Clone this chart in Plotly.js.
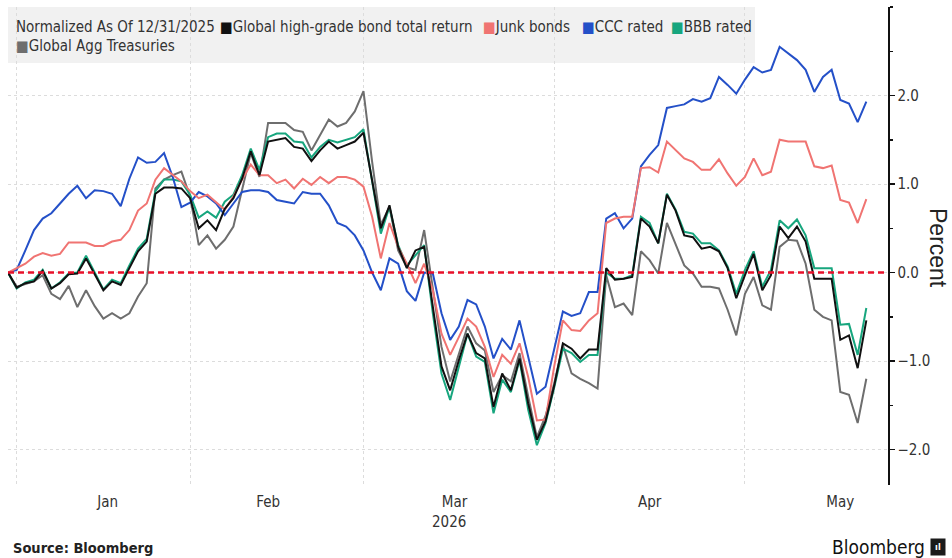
<!DOCTYPE html>
<html>
<head>
<meta charset="utf-8">
<script src="https://cdn.plot.ly/plotly-3.0.1.min.js"></script>
<style>
  html, body { margin: 0; padding: 0; background: #ffffff; }
  #chart { width: 952px; height: 558px; }
</style>
</head>
<body>
<div id="chart"></div>
<script>
// ---- Data ----
const dates = [
  '2025-12-31','2026-01-02','2026-01-05','2026-01-06','2026-01-07','2026-01-08','2026-01-09',
  '2026-01-12','2026-01-13','2026-01-14','2026-01-15','2026-01-16',
  '2026-01-20','2026-01-21','2026-01-22','2026-01-23',
  '2026-01-26','2026-01-27','2026-01-28','2026-01-29','2026-01-30',
  '2026-02-02','2026-02-03','2026-02-04','2026-02-05','2026-02-06',
  '2026-02-09','2026-02-10','2026-02-11','2026-02-12','2026-02-13',
  '2026-02-16','2026-02-17','2026-02-18','2026-02-19','2026-02-20',
  '2026-02-23','2026-02-24','2026-02-25','2026-02-26','2026-02-27',
  '2026-03-02','2026-03-03','2026-03-04','2026-03-05','2026-03-06',
  '2026-03-09','2026-03-10','2026-03-11','2026-03-12','2026-03-13',
  '2026-03-16','2026-03-17','2026-03-18','2026-03-19','2026-03-20',
  '2026-03-23','2026-03-24','2026-03-25','2026-03-26','2026-03-27',
  '2026-03-30','2026-03-31',
  '2026-04-01','2026-04-02','2026-04-03',
  '2026-04-06','2026-04-07','2026-04-08','2026-04-09','2026-04-10',
  '2026-04-13','2026-04-14','2026-04-15','2026-04-16','2026-04-17',
  '2026-04-20','2026-04-21','2026-04-22','2026-04-23','2026-04-24',
  '2026-04-27','2026-04-28','2026-04-29','2026-04-30',
  '2026-05-01','2026-05-04','2026-05-05','2026-05-06','2026-05-07','2026-05-08',
  '2026-05-11','2026-05-12','2026-05-13','2026-05-14','2026-05-15',
  '2026-05-18','2026-05-19','2026-05-20','2026-05-21'
];

const highGrade = [
  0.00,-0.17,-0.12,-0.10,0.02,-0.18,-0.12,-0.02,-0.01,0.16,
  -0.02,-0.20,-0.10,-0.14,0.05,0.24,0.35,0.89,0.96,0.96,
  0.95,0.84,0.50,0.59,0.48,0.72,0.84,1.06,1.37,1.10,
  1.48,1.50,1.52,1.42,1.40,1.26,1.38,1.48,1.40,1.44,
  1.48,1.58,1.02,0.50,0.76,0.29,0.05,0.25,0.29,-0.39,
  -1.06,-1.33,-0.99,-0.69,-0.91,-0.97,-1.52,-1.14,-1.33,-0.97,
  -1.48,-1.89,-1.68,-1.28,-0.80,-0.86,-0.97,-0.87,-0.87,0.05,
  -0.08,-0.07,-0.05,0.61,0.52,0.33,0.88,0.70,0.42,0.40,
  0.27,0.29,0.24,0.05,-0.29,-0.03,0.21,-0.20,-0.03,0.52,
  0.39,0.52,0.35,-0.07,-0.07,-0.07,-0.76,-0.71,-1.08,-0.54
];

const junk = [
  0.00,0.05,0.10,0.18,0.22,0.19,0.21,0.34,0.34,0.34,
  0.30,0.30,0.35,0.37,0.48,0.70,0.78,1.05,1.18,1.11,
  1.03,0.92,0.84,0.88,0.80,0.71,0.86,1.05,1.22,1.10,
  1.10,1.01,1.05,0.95,1.06,0.99,1.08,1.01,1.08,1.08,
  1.05,0.97,0.63,0.16,0.56,0.29,0.10,-0.12,0.10,-0.20,
  -0.69,-0.93,-0.73,-0.52,-0.61,-0.84,-1.18,-0.93,-1.03,-0.80,
  -1.18,-1.67,-1.66,-1.06,-0.54,-0.65,-0.66,-0.54,-0.46,0.56,
  0.61,0.63,0.63,1.18,1.19,1.13,1.48,1.38,1.29,1.25,
  1.16,1.16,1.28,1.12,0.98,1.08,1.29,1.10,1.14,1.50,
  1.48,1.48,1.48,1.20,1.18,1.21,0.82,0.79,0.56,0.83
];

const ccc = [
  0.00,0.03,0.25,0.48,0.61,0.67,0.78,0.89,0.98,0.84,
  0.93,0.92,0.89,0.75,1.06,1.30,1.24,1.25,1.35,1.08,
  0.74,0.79,0.91,0.86,0.78,0.65,0.78,0.91,0.93,0.93,
  0.91,0.82,0.80,0.78,0.91,0.89,0.89,0.76,0.56,0.52,
  0.42,0.25,0.00,-0.20,0.16,0.10,-0.21,-0.32,0.00,-0.01,
  -0.46,-0.76,-0.61,-0.31,-0.36,-0.61,-0.97,-0.75,-0.87,-0.54,
  -0.95,-1.37,-1.29,-0.86,-0.44,-0.49,-0.46,-0.22,-0.22,0.61,
  0.67,0.50,0.61,1.20,1.33,1.44,1.86,1.88,1.90,1.96,
  1.93,1.97,2.21,2.12,2.02,2.18,2.32,2.26,2.29,2.55,
  2.48,2.40,2.29,2.04,2.21,2.29,1.95,1.91,1.70,1.93
];

const bbb = [
  0.00,-0.18,-0.11,-0.08,0.03,-0.18,-0.11,-0.01,0.00,0.19,
  0.00,-0.19,-0.08,-0.12,0.08,0.27,0.38,0.92,1.05,1.05,
  1.03,0.88,0.62,0.69,0.62,0.80,0.88,1.10,1.40,1.16,
  1.53,1.57,1.57,1.48,1.47,1.30,1.42,1.50,1.47,1.50,
  1.53,1.62,1.02,0.44,0.74,0.31,0.08,0.20,0.31,-0.46,
  -1.14,-1.44,-1.08,-0.69,-0.95,-1.01,-1.59,-1.21,-1.35,-0.99,
  -1.55,-1.95,-1.70,-1.30,-0.86,-0.91,-1.01,-0.93,-0.93,0.00,
  -0.07,-0.07,-0.03,0.63,0.56,0.33,0.89,0.71,0.46,0.44,
  0.33,0.33,0.25,0.07,-0.24,0.03,0.24,-0.16,0.03,0.59,
  0.50,0.60,0.42,0.05,0.05,0.05,-0.59,-0.58,-0.93,-0.40
];

const treasuries = [
  0.00,-0.16,-0.13,-0.10,-0.03,-0.24,-0.30,-0.15,-0.39,-0.20,
  -0.38,-0.52,-0.46,-0.52,-0.46,-0.27,-0.12,0.95,1.05,1.10,
  1.14,0.86,0.31,0.42,0.27,0.37,0.52,0.93,1.35,1.08,
  1.69,1.69,1.69,1.61,1.59,1.38,1.55,1.73,1.65,1.69,
  1.82,2.05,1.25,0.54,0.74,0.25,0.06,0.03,0.48,-0.20,
  -0.84,-1.23,-0.91,-0.61,-0.80,-0.88,-1.35,-1.16,-1.23,-0.91,
  -1.40,-1.86,-1.62,-1.25,-0.82,-1.14,-1.20,-1.25,-1.31,-0.03,
  -0.39,-0.35,-0.48,0.24,0.14,-0.01,0.56,0.33,0.08,-0.01,
  -0.16,-0.16,-0.18,-0.42,-0.71,-0.24,-0.05,-0.37,-0.42,0.29,
  0.37,0.36,0.10,-0.42,-0.50,-0.54,-1.35,-1.38,-1.70,-1.20
];

const seriesNames = ['Global high-grade bond total return','Junk bonds','CCC rated','BBB rated','Global Agg Treasuries'];
const seriesColors = ['#111111','#f07472','#2450c8','#17a67e','#6e6e6e'];
const legendNote = 'Normalized As Of 12/31/2025';
const yTickVals = [-2, -1, 0, 1, 2];
const yearLabel = '2026';
const baseline = 0;

// ---- Chart ----
const FONT = '"DejaVu Sans Condensed", "Liberation Sans Narrow", "Arial Narrow", sans-serif';
const seriesValues = [highGrade, junk, ccc, bbb, treasuries];
const drawOrder = [4, 3, 2, 1, 0];

const traces = drawOrder.map(k => ({
  type: 'scatter',
  mode: 'lines',
  x: dates,
  y: seriesValues[k],
  name: seriesNames[k],
  line: { color: seriesColors[k], width: 2 },
  showlegend: false,
  hoverinfo: 'skip'
}));

// legend entries laid out as annotations (pixel positions converted to paper coords)
const plotL = 8, plotW = 880, plotB = 485, plotH = 478;
const px = v => (v - plotL) / plotW;
const py = v => (plotB - v) / plotH;
const legendX = [218, 481, 580, 669, 14];
const legendRowY = [27, 27, 27, 27, 46];

const annotations = [
  { text: legendNote, xref: 'paper', yref: 'paper', x: px(14), y: py(27), xanchor: 'left', yanchor: 'middle',
    showarrow: false, font: { family: FONT, size: 15, color: '#333333' } }
];
seriesNames.forEach((n, k) => {
  annotations.push({
    text: '<span style="color:' + seriesColors[k] + '">■</span>' + n,
    xref: 'paper', yref: 'paper', x: px(legendX[k]), y: py(legendRowY[k]),
    xanchor: 'left', yanchor: 'middle', showarrow: false,
    font: { family: FONT, size: 15, color: '#333333' }
  });
});
annotations.push(
  { text: yearLabel, xref: 'paper', yref: 'paper', x: px(449), y: py(522), xanchor: 'center', yanchor: 'middle',
    showarrow: false, font: { family: FONT, size: 15, color: '#333333' } },
  { text: 'Percent', xref: 'paper', yref: 'paper', x: px(938), y: py(248), xanchor: 'center', yanchor: 'middle',
    textangle: 90, showarrow: false, font: { family: '"Liberation Sans", Arial, sans-serif', size: 23, color: '#222222' } },
  { text: '<b>Source: Bloomberg</b>', xref: 'paper', yref: 'paper', x: px(11), y: py(548), xanchor: 'left', yanchor: 'middle',
    showarrow: false, font: { family: FONT, size: 14.5, color: '#222222' } },
  { text: 'Bloomberg', xref: 'paper', yref: 'paper', x: px(927), y: py(547), xanchor: 'right', yanchor: 'middle',
    showarrow: false, font: { family: '"Liberation Sans Narrow", "DejaVu Sans Condensed", sans-serif', size: 19, color: '#111111' } },
  { text: '<b>ıl</b>', xref: 'paper', yref: 'paper', x: px(938), y: py(547), xanchor: 'center', yanchor: 'middle',
    showarrow: false, bgcolor: '#1a1a1a', width: 12, height: 14, borderpad: 1,
    font: { family: FONT, size: 9, color: '#ffffff' } }
);

const layout = {
  width: 952,
  height: 558,
  margin: { l: 8, r: 64, t: 7, b: 73 },
  paper_bgcolor: '#ffffff',
  plot_bgcolor: '#ffffff',
  showlegend: false,
  font: { family: FONT, size: 15, color: '#333333' },
  xaxis: {
    type: 'date',
    range: ['2025-12-31', '2026-05-25 12:00'],
    rangebreaks: [
      { bounds: ['sat', 'mon'] },
      { values: ['2026-01-01', '2026-01-19'] }
    ],
    tick0: '2026-01-01',
    dtick: 'M1',
    tickformat: '%b',
    ticklabelmode: 'period',
    ticks: '',
    ticklabelstandoff: 6,
    showline: false,
    showgrid: true,
    gridcolor: '#dcdcdc',
    griddash: 'dot',
    gridwidth: 1,
    zeroline: false,
    tickfont: { family: FONT, size: 15, color: '#333333' },
    fixedrange: true
  },
  yaxis: {
    side: 'right',
    range: [-2.4, 3.0],
    tickmode: 'array',
    tickvals: yTickVals,
    tickformat: '.1f',
    ticks: 'outside',
    ticklen: 5,
    tickwidth: 1.5,
    tickcolor: '#111111',
    showline: true,
    linecolor: '#111111',
    linewidth: 1.5,
    showgrid: true,
    gridcolor: '#dcdcdc',
    griddash: 'dot',
    gridwidth: 1,
    zeroline: false,
    minor: { tickmode: 'linear', tick0: 0, dtick: 0.5, ticks: 'outside', ticklen: 3, tickcolor: '#111111', showgrid: false },
    tickfont: { family: FONT, size: 15, color: '#333333' },
    fixedrange: true
  },
  shapes: [
    { type: 'rect', xref: 'paper', yref: 'paper', x0: 0, x1: px(755), y0: py(63), y1: 1,
      fillcolor: '#f1f1f1', line: { width: 0 }, layer: 'below' },
    { type: 'line', xref: 'paper', yref: 'y', x0: 0, x1: 1, y0: baseline, y1: baseline,
      line: { color: '#e8102a', width: 2.5, dash: '6px,4px' }, layer: 'above' }
  ],
  annotations: annotations
};

Plotly.newPlot('chart', traces, layout, { displayModeBar: false, staticPlot: true });
</script>
</body>
</html>
